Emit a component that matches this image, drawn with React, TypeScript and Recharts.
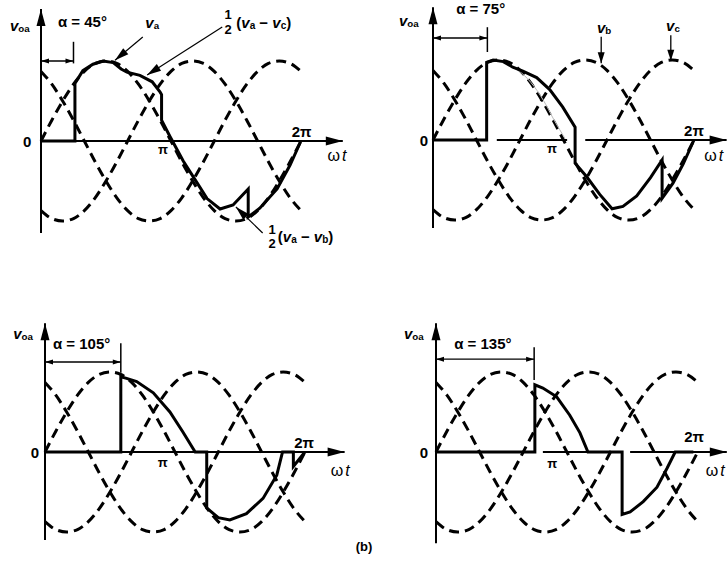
import {
  LineChart,
  Line,
  XAxis,
  YAxis,
  ReferenceLine,
  ReferenceDot,
} from 'recharts';

const FONT = '"Liberation Sans", Arial, Helvetica, sans-serif';
const W = 364;
const H = 287;
const SY = 80; // px for one unit of peak voltage

// ωt in degrees, and the three supply phases (dashed curves)
const wt = [0, 15, 30, 45, 60, 75, 90, 105, 120, 135, 150, 165, 180, 195, 210, 225, 240, 255, 270, 285, 300, 315, 330, 345, 360];
const va = [0, 0.26, 0.5, 0.71, 0.87, 0.97, 1, 0.97, 0.87, 0.71, 0.5, 0.26, 0, -0.26, -0.5, -0.71, -0.87, -0.97, -1, -0.97, -0.87, -0.71, -0.5, -0.26, 0];
const vb = [-0.87, -0.97, -1, -0.97, -0.87, -0.71, -0.5, -0.26, 0, 0.26, 0.5, 0.71, 0.87, 0.97, 1, 0.97, 0.87, 0.71, 0.5, 0.26, 0, -0.26, -0.5, -0.71, -0.87];
const vc = [0.87, 0.71, 0.5, 0.26, 0, -0.26, -0.5, -0.71, -0.87, -0.97, -1, -0.97, -0.87, -0.71, -0.5, -0.26, 0, 0.26, 0.5, 0.71, 0.87, 0.97, 1, 0.97, 0.87];

// output voltage v_oa for each firing angle, as [ωt, v]
const out45 = [
  [0, 0], [47, 0], [47, 0.72], [58, 0.88], [72, 0.96], [86, 1], [100, 0.98], [111, 0.9], [119, 0.86],
  [137, 0.82], [154, 0.74], [165, 0.61], [167, 0.58], [167, 0.26], [179, 0.05], [197, -0.25], [216, -0.52],
  [230, -0.72], [248, -0.85], [266, -0.8], [287, -0.6], [287, -0.95], [303, -0.84], [327, -0.6], [345, -0.3], [360, 0],
];
const out75 = [
  [0, 0], [74, 0], [74, 0.97], [83, 1], [97, 0.98], [110, 0.91], [124, 0.86], [143, 0.78], [161, 0.63],
  [179, 0.41], [196, 0.16], [196, -0.29], [212, -0.46], [230, -0.68], [247, -0.86], [262, -0.83], [281, -0.7],
  [300, -0.47], [316, -0.25], [316, -0.73], [331, -0.54], [345, -0.3], [360, 0],
];
const out105 = [
  [0, 0], [105, 0], [105, 0.94], [113, 0.92], [127, 0.88], [150, 0.74], [173, 0.5], [191, 0.25], [208, 0],
  [224, 0], [224, -0.7], [240, -0.82], [256, -0.85], [279, -0.77], [302, -0.58], [321, -0.29], [329, 0],
  [344, 0], [344, -0.18], [360, 0],
];
const out135 = [
  [0, 0], [136, 0], [136, 0.84], [147, 0.8], [166, 0.69], [184, 0.46], [198, 0.24], [209, 0], [256, 0],
  [256, -0.78], [267, -0.75], [285, -0.62], [304, -0.44], [318, -0.2], [329, 0], [354, 0],
];
// faint trace of v_a left in the 75° panel
const vaTrace = [[118, 0.87], [135, 0.72], [152, 0.5], [167, 0.25], [182, 0.02]];

const supply = wt.map((t, i) => ({ t, va: va[i], vb: vb[i], vc: vc[i] }));
const pts = (arr: number[][]) => arr.map(([t, v]) => ({ t, v }));

const panels = [
  { alpha: 45, out: out45, left: 0, top: 0, x0: 41, y0: 141, sx: 0.722, yLo: -1.15, yHi: 1.65,
    axis: [[0, 418]], dimV: 1.0, tick: [0.97, 1.24], aLbl: [23.5, 1.49], voa: [-43, 1.45], zero: [-19, 0],
    pi: [169, -0.11], twoPi: [361, 0.125], wt: [410, -0.18], wtAnchor: 'middle' },
  { alpha: 75, out: out75, left: 364, top: 0, x0: 69, y0: 140, sx: 0.725, yLo: -1.1, yHi: 1.66,
    axis: [[0, 74.5], [88, 185], [210, 405]], dimV: 1.275, tick: [1.1, 1.41], aLbl: [32, 1.65], voa: [-47, 1.5],
    zero: [-12.4, 0], pi: [164, -0.1], twoPi: [360, 0.125], wt: [374, -0.19], wtAnchor: 'start' },
  { alpha: 105, out: out105, left: 0, top: 287, x0: 45, y0: 165, sx: 0.722, yLo: -1.1, yHi: 1.61,
    axis: [[0, 415]], dimV: 1.125, tick: [0.99, 1.36], aLbl: [11, 1.36], voa: [-44, 1.49], zero: [-14, 0],
    pi: [163, -0.125], twoPi: [359, 0.125], wt: [409, -0.225], wtAnchor: 'middle' },
  { alpha: 135, out: out135, left: 364, top: 287, x0: 72, y0: 165, sx: 0.727, yLo: -1.14, yHi: 1.61,
    axis: [[0, 136], [147, 257], [267, 400]], dimV: 1.16, tick: [0.9, 1.31], aLbl: [25, 1.36], voa: [-44, 1.49],
    zero: [-16.5, 0], pi: [160, -0.14], twoPi: [355, 0.19], wt: [371, -0.225], wtAnchor: 'start' },
];

function head(x: number, y: number, ang: number, len: number, wid: number, key: string) {
  const bx = x - len * Math.cos(ang);
  const by = y - len * Math.sin(ang);
  const px = (-Math.sin(ang) * wid) / 2;
  const py = (Math.cos(ang) * wid) / 2;
  return <polygon key={key} points={`${x},${y} ${bx + px},${by + py} ${bx - px},${by - py}`} fill="#000" />;
}

// line with a filled arrowhead at its end (and optionally its start)
const arrow = (len: number, wid: number, both = false) => (p: any) => {
  const { x1, y1, x2, y2, strokeWidth } = p;
  const ang = Math.atan2(y2 - y1, x2 - x1);
  return (
    <g>
      <line x1={x1} y1={y1} x2={x2} y2={y2} stroke="#000" strokeWidth={strokeWidth} />
      {head(x2, y2, ang, len, wid, 'e')}
      {both && head(x1, y1, ang + Math.PI, len, wid, 's')}
    </g>
  );
};

const txt = (content: any, anchor = 'start', size = 14, weight: any = 'bold') => (p: any) => (
  <text x={p.cx} y={p.cy} textAnchor={anchor} dominantBaseline="central" fontFamily={FONT}
    fontWeight={weight} fontSize={size} fill="#000">
    {content}
  </text>
);

const vSub = (s: string, size = 15) => [
  <tspan key="v" fontStyle="italic" fontSize={size}>v</tspan>,
  <tspan key="s" fontSize={size * 0.65} dy={3}>{s}</tspan>,
];

const diff = (a: string, b: string) => (
  <>
    <tspan>(</tspan>
    <tspan fontStyle="italic">v</tspan>
    <tspan fontSize={10} dy={3}>{a}</tspan>
    <tspan dy={-3}>{' \u2212 '}</tspan>
    <tspan fontStyle="italic">v</tspan>
    <tspan fontSize={10} dy={3}>{b}</tspan>
    <tspan dy={-3}>)</tspan>
  </>
);

function Panel({ p }: { p: any }) {
  const xDom = [-p.x0 / p.sx, (W - p.x0) / p.sx];
  const yDom = [(p.y0 - H) / SY, p.y0 / SY];
  const dot = (key: string, at: number[], shape: any) => (
    <ReferenceDot key={key} x={at[0]} y={at[1]} r={0} ifOverflow="visible" shape={shape} />
  );
  const seg = (key: string, a: number[], b: number[], extra: any = {}) => (
    <ReferenceLine key={key} segment={[{ x: a[0], y: a[1] }, { x: b[0], y: b[1] }]} ifOverflow="visible"
      stroke="#000" strokeWidth={2} {...extra} />
  );

  const extras: any[] = [];
  if (p.alpha === 45) {
    extras.push(
      dot('lva', [154, 1.49], txt(vSub('a'), 'middle')),
      seg('pva', [141, 1.3], [102.5, 1.01], { strokeWidth: 1.2, shape: arrow(14, 8) }),
      dot('f1c', [259, 1.58], txt('1', 'middle', 13)),
      dot('f2c', [259, 1.4], txt('2', 'middle', 13)),
      dot('dc', [270.5, 1.49], txt(diff('a', 'c'), 'start', 15)),
      seg('pvc', [251, 1.425], [147, 0.825], { strokeWidth: 1.2, shape: arrow(14, 8) }),
      dot('f1b', [320, -1.1], txt('1', 'middle', 13)),
      dot('f2b', [320, -1.28], txt('2', 'middle', 13)),
      dot('db', [328, -1.19], txt(diff('a', 'b'), 'start', 15)),
      seg('pvb', [307, -1.15], [270, -0.825], { strokeWidth: 1.2, shape: arrow(14, 8) }),
    );
  }
  if (p.alpha === 75) {
    extras.push(
      dot('lvb', [236, 1.41], txt(vSub('b'), 'middle')),
      seg('pb', [232, 1.29], [232, 0.96], { strokeWidth: 1.3, shape: arrow(11, 7) }),
      dot('lvc', [331, 1.44], txt(vSub('c'), 'middle')),
      seg('pc', [328, 1.31], [328, 0.99], { strokeWidth: 1.3, shape: arrow(11, 7) }),
    );
  }

  return (
    <div style={{ position: 'absolute', left: p.left, top: p.top }}>
      <LineChart width={W} height={H} margin={{ top: 0, right: 0, bottom: 0, left: 0 }}>
        <XAxis type="number" dataKey="t" domain={xDom} allowDataOverflow hide />
        <YAxis type="number" domain={yDom} allowDataOverflow hide />
        {['va', 'vb', 'vc'].map((k) => (
          <Line key={k} data={supply} dataKey={k} type="monotone" stroke="#000" strokeWidth={3}
            strokeDasharray="10 6" dot={false} activeDot={false} isAnimationActive={false} />
        ))}
        {p.alpha === 75 && (
          <Line data={pts(vaTrace)} dataKey="v" type="monotone" stroke="#bbb" strokeWidth={1}
            dot={false} activeDot={false} isAnimationActive={false} />
        )}
        {seg('yax', [0, p.yLo], [0, p.yHi], { shape: arrow(17, 9) })}
        {p.axis.map((s: number[], i: number) =>
          seg('xax' + i, [s[0], 0], [s[1], 0], i === p.axis.length - 1 ? { shape: arrow(17, 9) } : {}),
        )}
        {seg('dim', [0, p.dimV], [p.alpha, p.dimV], { strokeWidth: 1.3, shape: arrow(8, 5, true) })}
        {seg('tick', [p.alpha, p.tick[0]], [p.alpha, p.tick[1]], { strokeWidth: 1.5 })}
        <Line data={pts(p.out)} dataKey="v" type="linear" stroke="#000" strokeWidth={3}
          dot={false} activeDot={false} isAnimationActive={false} />
        {dot('alpha', p.aLbl, txt(`\u03b1 = ${p.alpha}\u00b0`, 'start', 15))}
        {dot('voa', p.voa, txt(vSub('oa'), 'start'))}
        {dot('zero', p.zero, txt('0', 'middle', 15))}
        {dot('pi', p.pi, txt('\u03c0', 'middle', 13))}
        {dot('2pi', p.twoPi, txt('2\u03c0', 'middle', 15))}
        {dot('wt', p.wt, txt(<><tspan>ω</tspan><tspan fontStyle="italic" dx={2}>t</tspan></>, p.wtAnchor, 16, 'normal'))}
        {extras}
      </LineChart>
    </div>
  );
}

export default function App() {
  return (
    <div style={{ position: 'absolute', left: 0, top: 0, width: 728, height: 574, background: '#fff', overflow: 'hidden' }}>
      {panels.map((p) => (
        <Panel key={p.alpha} p={p} />
      ))}
      <div style={{ position: 'absolute', left: 334, top: 539, width: 60, textAlign: 'center', fontFamily: FONT, fontWeight: 'bold', fontSize: 13 }}>
        (b)
      </div>
    </div>
  );
}
